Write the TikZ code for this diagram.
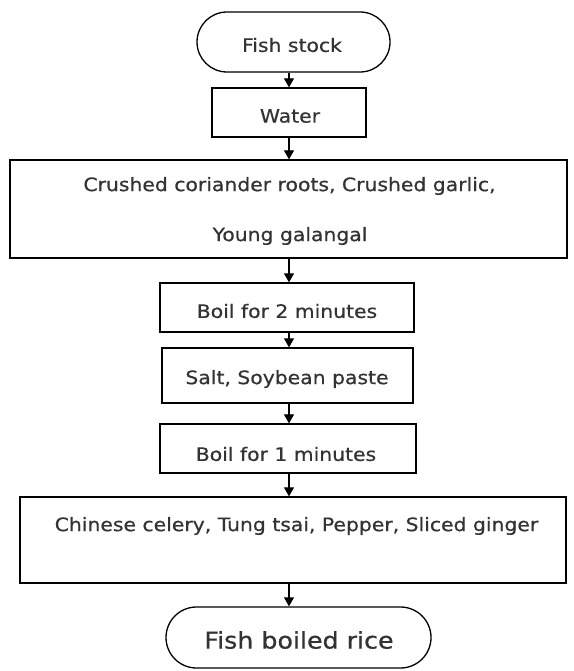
\documentclass[tikz,border=0pt]{standalone}
\usepackage{fontspec}
\setmainfont{DejaVu Sans}[FakeStretch=1.1,FakeBold=0.6]
\usetikzlibrary{arrows.meta,shapes.misc}
\begin{document}
\begin{tikzpicture}[x=1pt,y=-1pt,
  box/.style={draw,line width=1.3pt,rectangle,inner sep=0pt},
  term/.style={draw,line width=1.3pt,rounded rectangle,inner sep=0pt},
  lbl/.style={font=\fontsize{18.5}{22}\selectfont,inner sep=0pt,text=black!80},
  arr/.style={line width=1.1pt,-{Triangle[length=9pt,width=10pt]}}]
\useasboundingbox (0,0) rectangle (573,671);
% shapes
\node[term,minimum width=193pt,minimum height=60pt] (n1) at (293.5,42) {};
\node[lbl] (t1) at (292,45) {Fish stock};
\node[box,minimum width=154pt,minimum height=49pt] (n2) at (289,112.5) {};
\node[lbl] (t2) at (290,116) {Water};
\node[box,minimum width=557pt,minimum height=98pt] (n3) at (288.5,209) {};
\node[lbl] (t3a) at (289.5,186) {Crushed coriander roots, Crushed garlic,};
\node[lbl] (t3b) at (290,236) {Young galangal};
\node[box,minimum width=254pt,minimum height=49pt] (n4) at (287,307.5) {};
\node[lbl] (t4) at (287,311) {Boil for 2 minutes};
\node[box,minimum width=251pt,minimum height=55pt] (n5) at (287.5,375.5) {};
\node[lbl] (t5) at (287,379) {Salt, Soybean paste};
\node[box,minimum width=256pt,minimum height=49pt] (n6) at (288,448.5) {};
\node[lbl] (t6) at (286,454) {Boil for 1 minutes};
\node[box,minimum width=546pt,minimum height=86pt] (n7) at (293,540) {};
\node[lbl] (t7) at (296.5,526) {Chinese celery, Tung tsai, Pepper, Sliced ginger};
\node[term,minimum width=265pt,minimum height=61pt] (n8) at (298.5,637.5) {};
\node[lbl,font=\fontsize{23}{27}\selectfont] (t8) at (299,640) {Fish boiled rice};
% arrows
\draw[arr] (n1.south -| n2.north) -- (n2.north);
\draw[arr] (n2.south) -- (n2.south |- n3.north);
\draw[arr] (n2.south |- n3.south) -- (n2.south |- n4.north);
\draw[arr] (n2.south |- n4.south) -- (n2.south |- n5.north);
\draw[arr] (n2.south |- n5.south) -- (n2.south |- n6.north);
\draw[arr] (n2.south |- n6.south) -- (n2.south |- n7.north);
\draw[arr] (n2.south |- n7.south) -- (n2.south |- n8.north);
\end{tikzpicture}
\end{document}
